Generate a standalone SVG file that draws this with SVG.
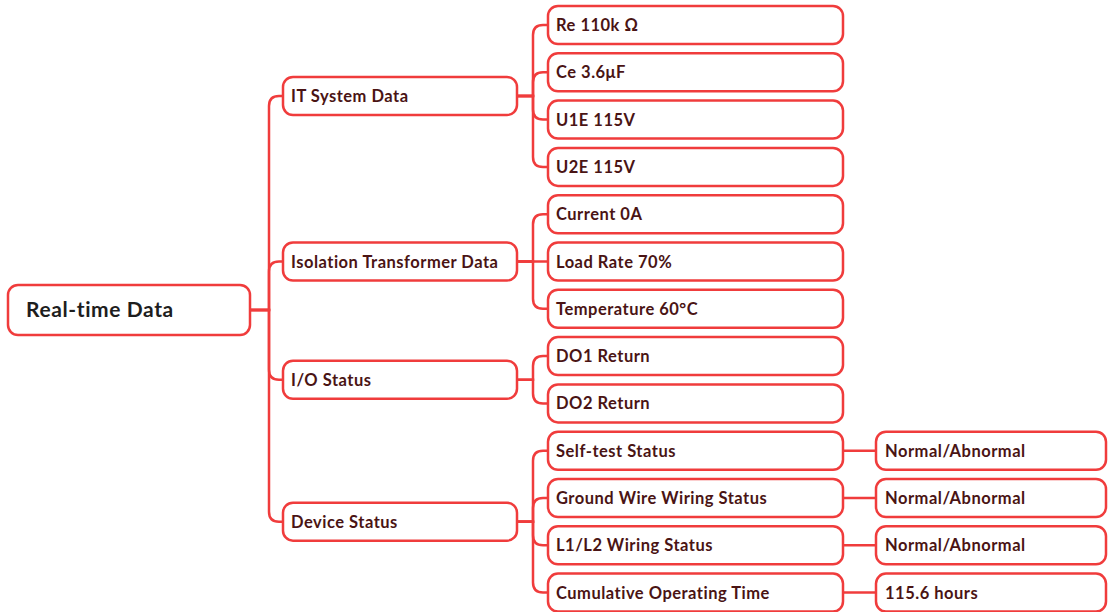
<svg xmlns="http://www.w3.org/2000/svg" width="1108" height="612" viewBox="0 0 1108 612">
<style>
.box{fill:#fff;stroke:#f03c3c;stroke-width:2.5}
.conn{fill:none;stroke:#f03c3c;stroke-width:2.5}
.t{font-family:Lato,"Open Sans","Liberation Sans",sans-serif;font-weight:bold;font-size:16.5px;letter-spacing:0.5px;fill:#4a1414}
.root{font-family:Lato,"Open Sans","Liberation Sans",sans-serif;font-weight:bold;font-size:21px;letter-spacing:0.6px;fill:#1e1e1e}
</style>
<rect width="1108" height="612" fill="#fff"/>
<g id="connectors">
<path class="conn" d="M250,310 H269 V106 Q269,96 279,96 H283"/>
<path class="conn" d="M250,310 H269 V271.5 Q269,261.5 279,261.5 H283"/>
<path class="conn" d="M250,310 H269 V369.75 Q269,379.75 279,379.75 H283"/>
<path class="conn" d="M250,310 H269 V511.65 Q269,521.65 279,521.65 H283"/>
<path class="conn" d="M517,96 H533 V35 Q533,25 543,25 H548"/>
<path class="conn" d="M517,96 H533 V82.3 Q533,72.3 543,72.3 H548"/>
<path class="conn" d="M517,96 H533 V109.6 Q533,119.6 543,119.6 H548"/>
<path class="conn" d="M517,96 H533 V156.9 Q533,166.9 543,166.9 H548"/>
<path class="conn" d="M517,261.5 H533 V224.2 Q533,214.2 543,214.2 H548"/>
<path class="conn" d="M517,261.5 H548"/>
<path class="conn" d="M517,261.5 H533 V298.8 Q533,308.8 543,308.8 H548"/>
<path class="conn" d="M517,379.75 H533 V366.1 Q533,356.1 543,356.1 H548"/>
<path class="conn" d="M517,379.75 H533 V393.4 Q533,403.4 543,403.4 H548"/>
<path class="conn" d="M517,521.65 H533 V460.7 Q533,450.7 543,450.7 H548"/>
<path class="conn" d="M517,521.65 H533 V508 Q533,498 543,498 H548"/>
<path class="conn" d="M517,521.65 H533 V535.3 Q533,545.3 543,545.3 H548"/>
<path class="conn" d="M517,521.65 H533 V582.6 Q533,592.6 543,592.6 H548"/>
<path class="conn" d="M843,450.7 H876"/>
<path class="conn" d="M843,498 H876"/>
<path class="conn" d="M843,545.3 H876"/>
<path class="conn" d="M843,592.6 H876"/>
</g>
<g id="root"><rect class="box" x="8" y="285" width="242" height="50" rx="10" stroke-width="3"/><text class="root" x="26" y="317">Real-time Data</text></g>
<g id="it"><rect class="box" x="283" y="77" width="234" height="38" rx="10"/><text class="t" x="291" y="102">IT System Data</text></g>
<g id="iso"><rect class="box" x="283" y="242.5" width="234" height="38" rx="10"/><text class="t" x="291" y="267.5">Isolation Transformer Data</text></g>
<g id="io"><rect class="box" x="283" y="360.75" width="234" height="38" rx="10"/><text class="t" x="291" y="385.75">I/O Status</text></g>
<g id="dev"><rect class="box" x="283" y="502.65" width="234" height="38" rx="10"/><text class="t" x="291" y="527.65">Device Status</text></g>
<g id="re"><rect class="box" x="548" y="6" width="295" height="38" rx="10"/><text class="t" x="556" y="31">Re 110k Ω</text></g>
<g id="ce"><rect class="box" x="548" y="53.3" width="295" height="38" rx="10"/><text class="t" x="556" y="78.3">Ce 3.6μF</text></g>
<g id="u1e"><rect class="box" x="548" y="100.6" width="295" height="38" rx="10"/><text class="t" x="556" y="125.6">U1E 115V</text></g>
<g id="u2e"><rect class="box" x="548" y="147.9" width="295" height="38" rx="10"/><text class="t" x="556" y="172.9">U2E 115V</text></g>
<g id="cur"><rect class="box" x="548" y="195.2" width="295" height="38" rx="10"/><text class="t" x="556" y="220.2">Current 0A</text></g>
<g id="load"><rect class="box" x="548" y="242.5" width="295" height="38" rx="10"/><text class="t" x="556" y="267.5">Load Rate 70%</text></g>
<g id="temp"><rect class="box" x="548" y="289.8" width="295" height="38" rx="10"/><text class="t" x="556" y="314.8">Temperature 60°C</text></g>
<g id="do1"><rect class="box" x="548" y="337.1" width="295" height="38" rx="10"/><text class="t" x="556" y="362.1">DO1 Return</text></g>
<g id="do2"><rect class="box" x="548" y="384.4" width="295" height="38" rx="10"/><text class="t" x="556" y="409.4">DO2 Return</text></g>
<g id="self"><rect class="box" x="548" y="431.7" width="295" height="38" rx="10"/><text class="t" x="556" y="456.7">Self-test Status</text></g>
<g id="ground"><rect class="box" x="548" y="479" width="295" height="38" rx="10"/><text class="t" x="556" y="504">Ground Wire Wiring Status</text></g>
<g id="l1l2"><rect class="box" x="548" y="526.3" width="295" height="38" rx="10"/><text class="t" x="556" y="551.3">L1/L2 Wiring Status</text></g>
<g id="cum"><rect class="box" x="548" y="573.6" width="295" height="38" rx="10"/><text class="t" x="556" y="598.6">Cumulative Operating Time</text></g>
<g id="selfv"><rect class="box" x="876" y="431.7" width="230" height="38" rx="10"/><text class="t" x="885" y="456.7">Normal/Abnormal</text></g>
<g id="groundv"><rect class="box" x="876" y="479" width="230" height="38" rx="10"/><text class="t" x="885" y="504">Normal/Abnormal</text></g>
<g id="l1l2v"><rect class="box" x="876" y="526.3" width="230" height="38" rx="10"/><text class="t" x="885" y="551.3">Normal/Abnormal</text></g>
<g id="cumv"><rect class="box" x="876" y="573.6" width="230" height="38" rx="10"/><text class="t" x="885" y="598.6">115.6 hours</text></g>
</svg>
